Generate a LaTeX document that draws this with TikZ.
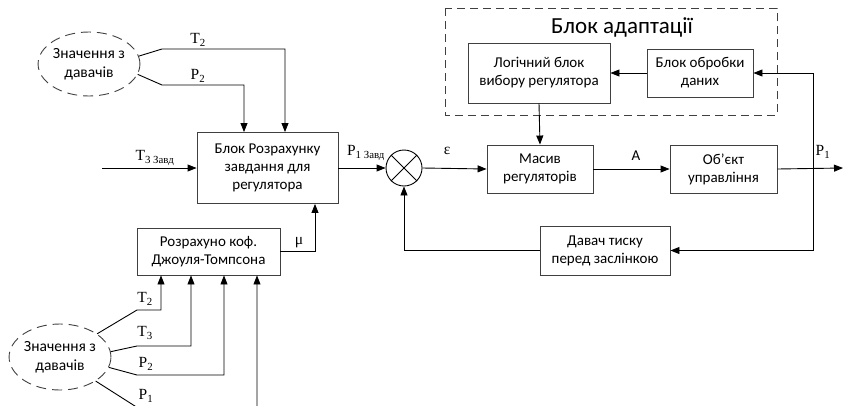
\documentclass[tikz,border=0pt]{standalone}
\usepackage{fontspec}
\setmainfont{Carlito}
\newfontfamily\tnr{Liberation Serif}
\usetikzlibrary{arrows.meta,shapes.geometric}
\definecolor{boxgray}{HTML}{404040}
\begin{document}
\begin{tikzpicture}[x=1pt,y=-1pt,
  box/.style={draw=boxgray, line width=0.9pt, align=center, inner sep=0pt,
              font=\fontsize{15}{18}\selectfont},
  cloud/.style={ellipse, draw=boxgray, line width=0.9pt, dash pattern=on 10pt off 6pt,
              align=center, inner sep=0pt, font=\fontsize{15.5}{19}\selectfont},
  arr/.style={line width=0.9pt, -{Triangle[length=9pt,width=7pt]}},
  sig/.style={inner sep=0pt, font=\tnr\fontsize{15.5}{15.5}\selectfont},
  plain/.style={inner sep=0pt, font=\fontsize{15}{15}\selectfont}
]
\useasboundingbox (0,0) rectangle (843,405);

% adaptation group
\draw[boxgray, line width=0.9pt, dash pattern=on 8pt off 5pt] (445,8) rectangle (777,115);
\node[inner sep=0pt, font=\fontsize{23}{23}\selectfont] (title) at (622,27) {Блок адаптації};
\node[box, minimum width=142pt, minimum height=60pt] (logic) at (539,73) {Логічний блок\\вибору регулятора};
\node[box, minimum width=106pt, minimum height=48pt] (data) at (700,73) {Блок обробки\\даних};

% main blocks
\node[box, minimum width=141pt, minimum height=71pt] (calc) at (267.5,168) {Блок Розрахунку\\завдання для\\регулятора};
\node[box, minimum width=143pt, minimum height=47pt] (jt) at (208.5,251.5) {Розрахуно коф.\\Джоуля-Томпсона};
\node[draw, line width=0.9pt, circle, minimum size=36pt, inner sep=0pt] (sum) at (404,168) {};
\draw[line width=0.9pt] (sum.45) -- (sum.225) (sum.135) -- (sum.315);
\node[box, minimum width=106pt, minimum height=48pt] (mas) at (540,169) {Масив\\регуляторів};
\node[box, minimum width=107pt, minimum height=48pt] (obj) at (723.5,169) {Об’єкт\\управління};
\node[box, minimum width=130pt, minimum height=49pt] (dav) at (605,250.5) {Давач тиску\\перед заслінкою};

% sensor groups
\node[cloud, minimum width=92pt, minimum height=64pt] (s1) at (89,64) {Значення з\\давачів};
\node[cloud, minimum width=96pt, minimum height=66pt] (s2) at (60,357) {Значення з\\давачів};

% free ends
\coordinate (tin) at (102,168);
\coordinate (pout) at (843,168);
\coordinate (tap) at (813,168);

% inputs of the set-point block
\draw[arr] (s1.9) -- (162,49) -| ([xshift=17.5pt]calc.north);
\draw[arr] (s1.-12) -- (162,85) -| ([xshift=-23.5pt]calc.north);
\draw[arr] (tin) -- (calc.west);
\draw[arr] (jt.east) -| ([xshift=47.5pt]calc.south);

% inputs of the Joule-Thomson block
\draw[arr] (s2.32) -- (137,310) -| ([xshift=-47.5pt]jt.south);
\draw[arr] (s2.6) -- (137,346) -| ([xshift=-17.5pt]jt.south);
\draw[arr] (s2.-12) -- (137,375) -| ([xshift=15.5pt]jt.south);
\draw[arr] (s2.-34) -- (138,408) -| ([xshift=48.5pt]jt.south);

% control loop
\draw[arr] (calc.east) -- (sum.west);
\draw[arr] (sum.east) -- (mas.west);
\draw[arr] (mas.east) -- (obj.west);
\draw[arr] (obj.east) -- (pout);
\draw[arr] (tap) |- (data.east);
\draw[arr] (tap) |- (dav.east);
\draw[arr] (dav.west) -| (sum.south);
\draw[arr] (data.west) -- (logic.east);
\draw[arr] (logic.south) -- (mas.north);

% signal labels
\node[sig] (lT2a) at (198,40) {T\textsubscript{2}};
\node[sig] (lP2a) at (198,76) {P\textsubscript{2}};
\node[sig] (lT3z) at (155,158) {T\textsubscript{3 Завд}};
\node[sig] (lP1z) at (366,153) {P\textsubscript{1 Завд}};
\node[sig] (leps) at (447,151) {ε};
\node[plain] (lA) at (636,156) {A};
\node[sig] (lP1) at (823,152) {P\textsubscript{1}};
\node[sig] (lmu) at (299,243) {μ};
\node[sig] (lT2b) at (145,299) {T\textsubscript{2}};
\node[sig] (lT3b) at (145,333) {T\textsubscript{3}};
\node[sig] (lP2b) at (146,364) {P\textsubscript{2}};
\node[sig] (lP1b) at (146,396) {P\textsubscript{1}};
\end{tikzpicture}
\end{document}
